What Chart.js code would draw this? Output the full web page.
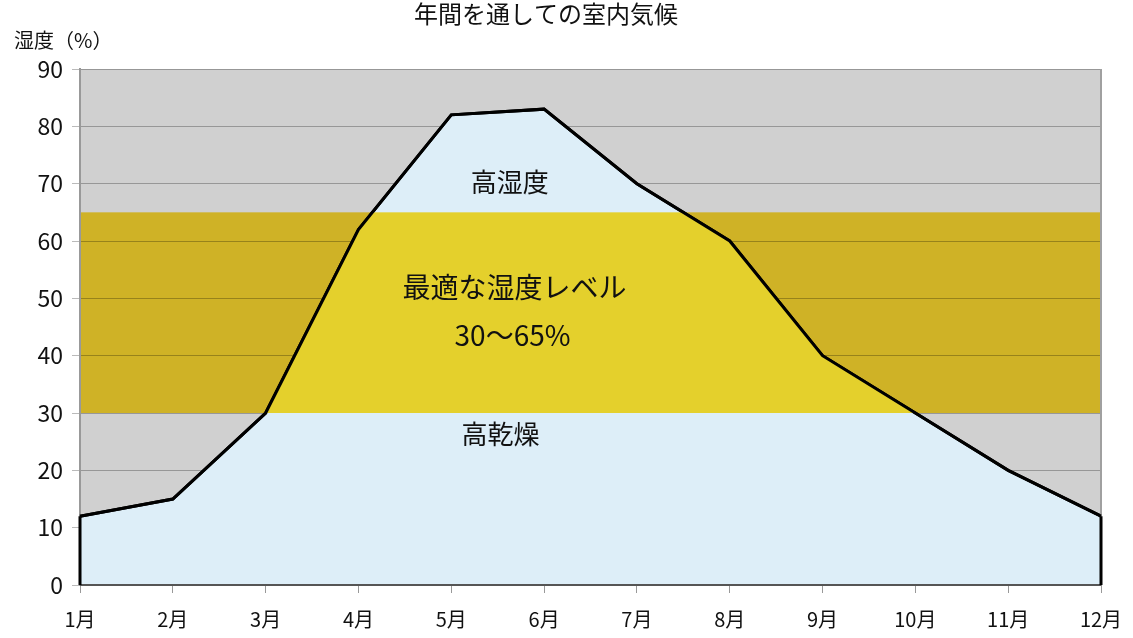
<!DOCTYPE html>
<html>
<head>
<meta charset="utf-8">
<script src="https://cdn.jsdelivr.net/npm/chart.js@4.4.1/dist/chart.umd.min.js"></script>
<style>
html,body{margin:0;padding:0;background:#fff;}
#wrap{width:1133px;height:638px;position:relative;}
</style>
</head>
<body>
<div id="wrap"><canvas id="c" width="1133" height="638"></canvas></div>
<script>
const months = ['1月','2月','3月','4月','5月','6月','7月','8月','9月','10月','11月','12月'];
const humidity = [12, 15, 30, 62, 82, 83, 70, 60, 40, 30, 20, 12];
const optimalRange = [30, 65];
const yTicks = {min: 0, max: 90, step: 10};
const chartTitle = '年間を通しての室内気候';
const yAxisLabel = '湿度（%）';
// annotation labels: [text, category position, humidity value, font size]
const zoneLabels = [
  ['高湿度', 4.63, 70.3, 26],
  ['最適な湿度レベル', 4.68, 52, 28],
  ['30～65%', 4.66, 43.6, 28],
  ['高乾燥', 4.53, 26.3, 26]
];

const FONT = '"Noto Sans CJK JP", "Noto Sans", sans-serif';
const GRAY = '#d0d0d0', GOLD = '#cfb226', YELLOW = '#e4d02c', BLUE = '#ddeef8';

const zonesPlugin = {
  id: 'zones',
  beforeDraw(chart) {
    const {ctx, chartArea: a, scales: {y}} = chart;
    ctx.save();
    ctx.fillStyle = GRAY;
    ctx.fillRect(a.left, a.top, a.right - a.left, a.bottom - a.top);
    const yHi = y.getPixelForValue(optimalRange[1]);
    const yLo = y.getPixelForValue(optimalRange[0]);
    ctx.fillStyle = GOLD;
    ctx.fillRect(a.left, yHi, a.right - a.left, yLo - yHi);
    ctx.restore();
  },
  afterDatasetsDraw(chart) {
    const {ctx, chartArea: a, scales: {x, y}} = chart;
    const meta = chart.getDatasetMeta(0);
    const pts = meta.data;
    const y0 = y.getPixelForValue(0);
    ctx.save();
    ctx.beginPath();
    ctx.moveTo(pts[0].x, y0);
    pts.forEach(p => ctx.lineTo(p.x, p.y));
    ctx.lineTo(pts[pts.length - 1].x, y0);
    ctx.closePath();
    ctx.clip();
    const yHi = y.getPixelForValue(optimalRange[1]);
    const yLo = y.getPixelForValue(optimalRange[0]);
    ctx.fillStyle = YELLOW;
    ctx.fillRect(a.left, yHi, a.right - a.left, yLo - yHi);
    ctx.restore();

    // right border
    ctx.save();
    ctx.strokeStyle = '#a0a0a0';
    ctx.lineWidth = 2;
    ctx.beginPath();
    ctx.moveTo(a.right, a.top);
    ctx.lineTo(a.right, a.bottom);
    ctx.stroke();
    // bottom axis line
    ctx.strokeStyle = '#555';
    ctx.lineWidth = 2;
    ctx.beginPath();
    ctx.moveTo(a.left, y0);
    ctx.lineTo(a.right, y0);
    ctx.stroke();
    ctx.restore();

    // redraw line + vertical edges
    meta.dataset.draw(ctx, a);
    ctx.save();
    ctx.strokeStyle = '#000';
    ctx.lineWidth = 3;
    ctx.beginPath();
    ctx.moveTo(pts[0].x, pts[0].y);
    ctx.lineTo(pts[0].x, y0);
    ctx.moveTo(pts[pts.length - 1].x, pts[pts.length - 1].y);
    ctx.lineTo(pts[pts.length - 1].x, y0);
    ctx.stroke();
    ctx.restore();

    // zone labels
    ctx.save();
    ctx.fillStyle = '#111';
    ctx.textAlign = 'center';
    ctx.textBaseline = 'middle';
    zoneLabels.forEach(([t, cx, cy, fs]) => {
      ctx.font = fs + 'px ' + FONT;
      ctx.fillText(t, x.getPixelForValue(cx), y.getPixelForValue(cy));
    });
    ctx.restore();
  },
  afterDraw(chart) {
    const {ctx} = chart;
    ctx.save();
    ctx.fillStyle = '#111';
    ctx.textBaseline = 'middle';
    ctx.textAlign = 'center';
    ctx.font = '24px ' + FONT;
    ctx.fillText(chartTitle, 546, 14);
    ctx.textAlign = 'left';
    ctx.font = '20px ' + FONT;
    ctx.fillText(yAxisLabel, 14, 40);
    ctx.restore();
  }
};

new Chart(document.getElementById('c'), {
  type: 'line',
  data: {
    labels: months,
    datasets: [{
      data: humidity,
      borderColor: '#000',
      borderWidth: 3,
      backgroundColor: BLUE,
      fill: 'origin',
      tension: 0,
      pointRadius: 0,
      pointHoverRadius: 0
    }]
  },
  options: {
    responsive: false,
    animation: false,
    events: [],
    layout: {padding: {top: 69, right: 32, bottom: 0, left: 0}},
    plugins: {legend: {display: false}, title: {display: false}, tooltip: {enabled: false}},
    scales: {
      x: {
        offset: false,
        grid: {drawOnChartArea: false, drawTicks: true, tickLength: 8, color: '#999'},
        border: {display: true, color: '#888', width: 1},
        ticks: {color: '#111', font: {family: FONT, size: 20}, padding: 14, maxRotation: 0, autoSkip: false},
        afterFit(s) { s.height = 53; s.paddingRight = 0; s.paddingLeft = 0; }
      },
      y: {
        min: yTicks.min, max: yTicks.max,
        grid: {color: 'rgba(0,0,0,0.27)', tickLength: 8, lineWidth: 1},
        border: {display: true, color: '#999', width: 2},
        ticks: {stepSize: yTicks.step, color: '#111', font: {family: FONT, size: 23}, padding: 9},
        afterFit(s) { s.width = 80; }
      }
    }
  },
  plugins: [zonesPlugin]
});
</script>
</body>
</html>
